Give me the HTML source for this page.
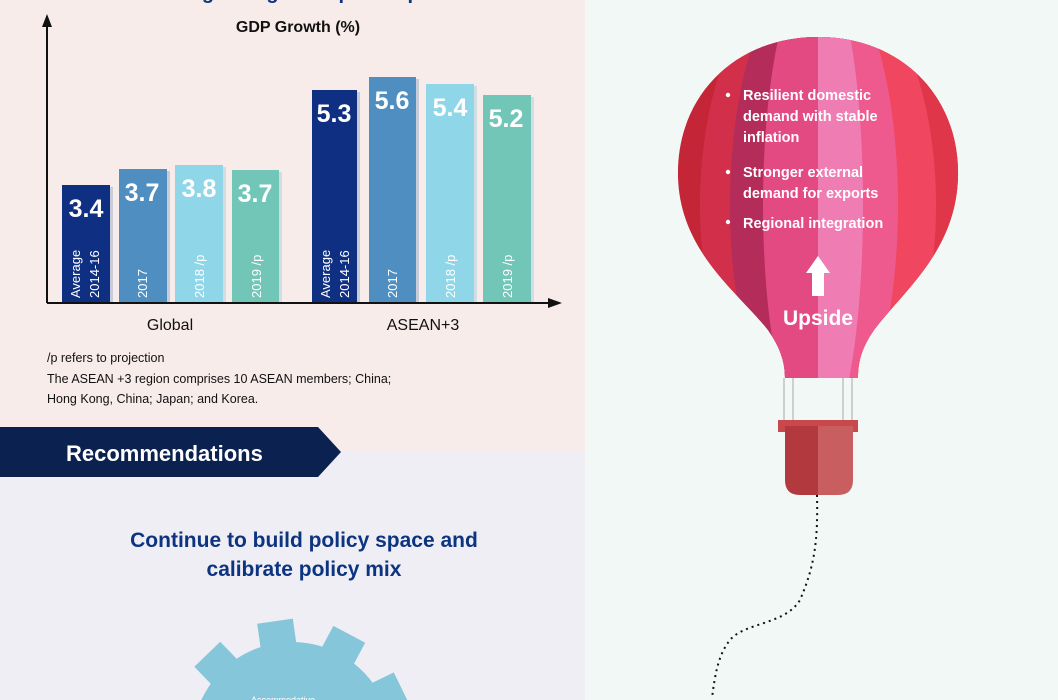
<!DOCTYPE html>
<html><head><meta charset="utf-8"><style>
html,body{margin:0;padding:0;width:1058px;height:700px;overflow:hidden;}
body{font-family:"Liberation Sans",sans-serif;}
svg{display:block;}
</style></head><body>
<svg width="1058" height="700" viewBox="0 0 1058 700" xmlns="http://www.w3.org/2000/svg" font-family="Liberation Sans, sans-serif">
<defs>
<clipPath id="bal"><path d="M818,37 C902,37 960,97 958,177 C956,252 902,292 874,330 C860,350 858,365 858,378 L785,378 C785,365 782,350 768,330 C738,292 680,252 678,177 C676,97 734,37 818,37 Z"/></clipPath>
<clipPath id="L"><rect x="600" y="0" width="218" height="400"/></clipPath>
<clipPath id="R"><rect x="818" y="0" width="200" height="400"/></clipPath>
<clipPath id="page"><rect x="0" y="0" width="1058" height="700"/></clipPath>
</defs>
<g clip-path="url(#page)">
<rect x="0" y="0" width="585" height="452" fill="#f8ecea"/>
<rect x="0" y="452" width="585" height="248" fill="#eeeef4"/>
<rect x="585" y="0" width="473" height="700" fill="#f1f8f6"/>
<text x="298" y="-1" font-size="20" font-weight="bold" fill="#0d3480" text-anchor="middle">Regional growth picks up</text>
<text x="298" y="32" font-size="16" font-weight="bold" fill="#111" text-anchor="middle">GDP Growth (%)</text>
<g>
<rect x="110" y="187" width="3" height="116" fill="#c8ccd8"/>
<rect x="62" y="185" width="48" height="118" fill="#0f2f82"/>
<rect x="167" y="171" width="3" height="132" fill="#c8ccd8"/>
<rect x="119" y="169" width="48" height="134" fill="#4f8ec0"/>
<rect x="223" y="167" width="3" height="136" fill="#d0dde2"/>
<rect x="175" y="165" width="48" height="138" fill="#8fd7e8"/>
<rect x="279" y="172" width="3" height="131" fill="#d0dde2"/>
<rect x="232" y="170" width="47" height="133" fill="#72c6b8"/>
<rect x="357" y="92" width="3" height="211" fill="#c8ccd8"/>
<rect x="312" y="90" width="45" height="213" fill="#0f2f82"/>
<rect x="416" y="79" width="3" height="224" fill="#c8ccd8"/>
<rect x="369" y="77" width="47" height="226" fill="#4f8ec0"/>
<rect x="474" y="86" width="3" height="217" fill="#d0dde2"/>
<rect x="426" y="84" width="48" height="219" fill="#8fd7e8"/>
<rect x="531" y="97" width="3" height="206" fill="#d0dde2"/>
<rect x="483" y="95" width="48" height="208" fill="#72c6b8"/>
</g>
<g font-size="25" font-weight="bold" fill="#fff" text-anchor="middle">
<text x="86" y="217">3.4</text><text x="142" y="201">3.7</text><text x="199" y="197">3.8</text><text x="255" y="202">3.7</text>
<text x="334" y="122">5.3</text><text x="392" y="109">5.6</text><text x="450" y="116">5.4</text><text x="506" y="127">5.2</text>
</g>
<g font-size="13" fill="#fff">
<text transform="translate(80,298) rotate(-90)">Average</text>
<text transform="translate(99,298) rotate(-90)">2014-16</text>
<text transform="translate(147,298) rotate(-90)">2017</text>
<text transform="translate(204,298) rotate(-90)">2018 /p</text>
<text transform="translate(261,298) rotate(-90)">2019 /p</text>
<text transform="translate(330,298) rotate(-90)">Average</text>
<text transform="translate(349,298) rotate(-90)">2014-16</text>
<text transform="translate(397,298) rotate(-90)">2017</text>
<text transform="translate(455,298) rotate(-90)">2018 /p</text>
<text transform="translate(512,298) rotate(-90)">2019 /p</text>
</g>
<line x1="47" y1="303" x2="555" y2="303" stroke="#111" stroke-width="2"/>
<polygon points="562,303 548,298 548,308" fill="#111"/>
<line x1="47" y1="303" x2="47" y2="22" stroke="#111" stroke-width="2"/>
<polygon points="47,14 42,27 52,27" fill="#111"/>
<text x="170" y="330" font-size="16" fill="#111" text-anchor="middle">Global</text>
<text x="423" y="330" font-size="16" fill="#111" text-anchor="middle">ASEAN+3</text>
<g font-size="12.5" fill="#111">
<text x="47" y="362">/p refers to projection</text>
<text x="47" y="383">The ASEAN +3 region comprises 10 ASEAN members; China;</text>
<text x="47" y="403">Hong Kong, China; Japan; and Korea.</text>
</g>
<polygon points="0,427 318,427 341,452 318,477 0,477" fill="#0b2150"/>
<text x="66" y="461" font-size="22" font-weight="bold" fill="#fff">Recommendations</text>
<text x="304" y="547" font-size="21" font-weight="bold" fill="#0d3480" text-anchor="middle">Continue to build policy space and</text>
<text x="304" y="576" font-size="21" font-weight="bold" fill="#0d3480" text-anchor="middle">calibrate policy mix</text>
<g fill="#86c6da">
<circle cx="292" cy="742" r="100"/>
<g transform="translate(292,742)">
<rect x="-18" y="-122" width="36" height="28" transform="rotate(-44)"/>
<rect x="-18" y="-122" width="36" height="28" transform="rotate(-8)"/>
<rect x="-18" y="-122" width="36" height="28" transform="rotate(28)"/>
<rect x="-18" y="-122" width="36" height="28" transform="rotate(64)"/>
<rect x="-18" y="-122" width="36" height="28" transform="rotate(-80)"/>
</g>
</g>
<text x="283" y="703" font-size="9" fill="#fff" text-anchor="middle">Accommodative</text>
<g clip-path="url(#bal)">
<rect x="670" y="30" width="300" height="360" fill="#c42637"/>
<g clip-path="url(#L)">
<ellipse cx="818" cy="205" rx="118" ry="240" fill="#d2304a"/>
<ellipse cx="818" cy="205" rx="88" ry="240" fill="#b42c5a"/>
<ellipse cx="818" cy="205" rx="55" ry="240" fill="#e44a82"/>
</g>
<g clip-path="url(#R)">
<rect x="818" y="30" width="150" height="360" fill="#e0364a"/>
<ellipse cx="818" cy="205" rx="118" ry="240" fill="#f04660"/>
<ellipse cx="818" cy="205" rx="80" ry="240" fill="#ee5a8e"/>
<ellipse cx="818" cy="205" rx="45" ry="240" fill="#f07cb4"/>
</g>
</g>
<g stroke="#c0c4c4" stroke-width="1.5">
<line x1="784" y1="378" x2="784" y2="420"/><line x1="793" y1="378" x2="793" y2="420"/>
<line x1="843" y1="378" x2="843" y2="420"/><line x1="852" y1="378" x2="852" y2="420"/>
</g>
<rect x="778" y="420" width="80" height="12" fill="#c8484c"/>
<path d="M785,426 L818,426 L818,495 L800,495 Q785,495 785,480 Z" fill="#b23a3e"/>
<path d="M818,426 L853,426 L853,480 Q853,495 838,495 L818,495 Z" fill="#c95e60"/>
<path d="M817,495 C818,540 815,565 800,600 C785,625 745,622 730,640 C718,655 715,675 712,698" fill="none" stroke="#111" stroke-width="2" stroke-dasharray="2,4"/>
<g fill="#fff" font-weight="bold" font-size="14.5">
<circle cx="728" cy="95" r="2.2"/><circle cx="728" cy="172" r="2.2"/><circle cx="728" cy="222" r="2.2"/>
<text x="743" y="100">Resilient domestic</text>
<text x="743" y="121">demand with stable</text>
<text x="743" y="142">inflation</text>
<text x="743" y="177">Stronger external</text>
<text x="743" y="198">demand for exports</text>
<text x="743" y="228">Regional integration</text>
<polygon points="818,256 806,273 812,273 812,296 824,296 824,273 830,273"/>
<text x="818" y="325" font-size="21" text-anchor="middle">Upside</text>
</g>
</g>
</svg>
</body></html>
